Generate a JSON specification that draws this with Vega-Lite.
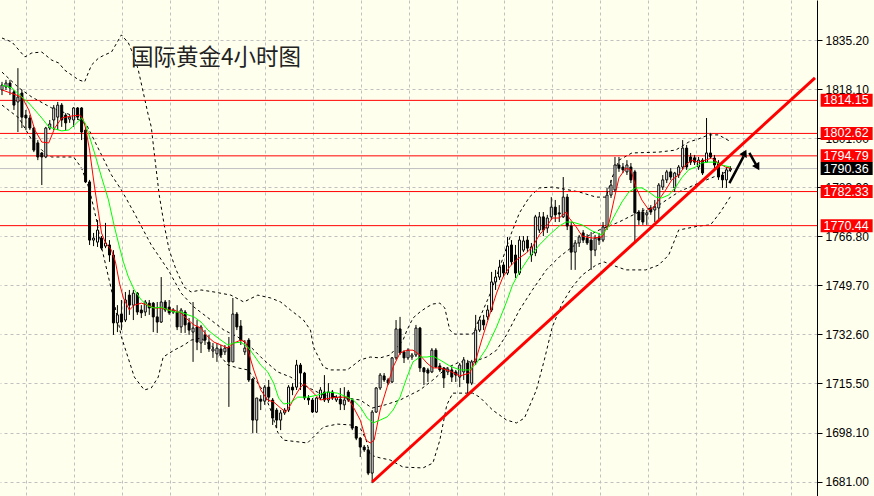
{
"$schema": "https://vega.github.io/schema/vega-lite/v6.json",
"width": 817, "height": 496,
"autosize": {"type": "none"},
"padding": {"left": 0, "top": 0, "right": 57, "bottom": 0},
"background": "#FFFFEE",
"config": {"view": {"stroke": null}, "bar": {"continuousBandSize": 2}},
"datasets": {
"cd": [
{"i":0,"o":1817.8,"h":1820.6,"l":1816.0,"c":1819.5},
{"i":1,"o":1818.8,"h":1821.3,"l":1817.8,"c":1820.2},
{"i":2,"o":1820.2,"h":1821.3,"l":1816.0,"c":1818.5},
{"i":3,"o":1817.1,"h":1817.8,"l":1810.8,"c":1812.5},
{"i":4,"o":1813.6,"h":1825.4,"l":1803.1,"c":1815.3},
{"i":5,"o":1816.7,"h":1817.8,"l":1804.5,"c":1808.3},
{"i":6,"o":1809.0,"h":1810.8,"l":1803.8,"c":1808.0},
{"i":7,"o":1808.0,"h":1809.0,"l":1803.8,"c":1804.5},
{"i":8,"o":1804.5,"h":1804.9,"l":1796.1,"c":1796.8},
{"i":9,"o":1799.3,"h":1800.3,"l":1793.3,"c":1794.4},
{"i":10,"o":1795.8,"h":1796.1,"l":1784.6,"c":1794.4},
{"i":11,"o":1794.4,"h":1804.9,"l":1794.0,"c":1804.5},
{"i":12,"o":1804.5,"h":1807.3,"l":1803.8,"c":1805.9},
{"i":13,"o":1807.3,"h":1812.5,"l":1803.8,"c":1811.5},
{"i":14,"o":1808.3,"h":1813.6,"l":1803.8,"c":1812.5},
{"i":15,"o":1812.5,"h":1813.2,"l":1804.9,"c":1807.3},
{"i":16,"o":1809.0,"h":1809.7,"l":1803.8,"c":1806.3},
{"i":17,"o":1807.6,"h":1809.0,"l":1806.3,"c":1808.3},
{"i":18,"o":1807.3,"h":1811.8,"l":1804.9,"c":1811.5},
{"i":19,"o":1811.5,"h":1811.8,"l":1807.3,"c":1808.3},
{"i":20,"o":1811.5,"h":1811.8,"l":1800.3,"c":1803.1},
{"i":21,"o":1803.8,"h":1804.5,"l":1785.3,"c":1785.7},
{"i":22,"o":1785.7,"h":1786.4,"l":1763.7,"c":1765.4},
{"i":23,"o":1765.4,"h":1767.9,"l":1763.3,"c":1766.1},
{"i":24,"o":1764.7,"h":1772.4,"l":1763.0,"c":1768.9},
{"i":25,"o":1766.1,"h":1766.8,"l":1761.9,"c":1762.6},
{"i":26,"o":1763.3,"h":1771.4,"l":1762.6,"c":1764.4},
{"i":27,"o":1763.7,"h":1765.4,"l":1757.8,"c":1760.2},
{"i":28,"o":1760.2,"h":1761.9,"l":1732.3,"c":1736.5},
{"i":29,"o":1736.5,"h":1742.7,"l":1733.3,"c":1739.3},
{"i":30,"o":1739.6,"h":1744.5,"l":1734.0,"c":1736.8},
{"i":31,"o":1737.5,"h":1747.3,"l":1736.8,"c":1744.5},
{"i":32,"o":1746.2,"h":1748.0,"l":1739.3,"c":1742.7},
{"i":33,"o":1742.7,"h":1748.0,"l":1737.5,"c":1746.9},
{"i":34,"o":1746.9,"h":1747.3,"l":1739.3,"c":1740.3},
{"i":35,"o":1741.0,"h":1742.7,"l":1738.2,"c":1740.0},
{"i":36,"o":1740.3,"h":1744.5,"l":1738.9,"c":1743.8},
{"i":37,"o":1743.4,"h":1744.5,"l":1739.3,"c":1741.7},
{"i":38,"o":1743.4,"h":1743.8,"l":1733.3,"c":1738.6},
{"i":39,"o":1738.6,"h":1743.8,"l":1733.0,"c":1736.8},
{"i":40,"o":1736.8,"h":1752.5,"l":1736.5,"c":1743.8},
{"i":41,"o":1743.8,"h":1744.5,"l":1740.3,"c":1741.0},
{"i":42,"o":1742.0,"h":1744.5,"l":1739.3,"c":1740.0},
{"i":43,"o":1740.3,"h":1741.7,"l":1739.6,"c":1741.0},
{"i":44,"o":1740.3,"h":1742.7,"l":1734.0,"c":1735.1},
{"i":45,"o":1735.1,"h":1741.7,"l":1733.0,"c":1741.0},
{"i":46,"o":1740.3,"h":1741.0,"l":1733.0,"c":1735.8},
{"i":47,"o":1736.5,"h":1738.2,"l":1732.3,"c":1734.0},
{"i":48,"o":1733.3,"h":1743.8,"l":1722.9,"c":1734.7},
{"i":49,"o":1735.1,"h":1737.5,"l":1727.0,"c":1729.8},
{"i":50,"o":1729.5,"h":1735.8,"l":1726.0,"c":1735.1},
{"i":51,"o":1732.3,"h":1734.0,"l":1728.8,"c":1730.5},
{"i":52,"o":1729.8,"h":1732.3,"l":1726.4,"c":1727.4},
{"i":53,"o":1726.7,"h":1729.5,"l":1724.3,"c":1727.4},
{"i":54,"o":1725.7,"h":1729.5,"l":1722.9,"c":1727.7},
{"i":55,"o":1727.4,"h":1728.8,"l":1724.3,"c":1725.3},
{"i":56,"o":1726.4,"h":1728.8,"l":1725.3,"c":1727.7},
{"i":57,"o":1728.1,"h":1731.6,"l":1707.2,"c":1722.9},
{"i":58,"o":1722.9,"h":1745.2,"l":1722.9,"c":1739.6},
{"i":59,"o":1739.6,"h":1740.3,"l":1734.0,"c":1735.1},
{"i":60,"o":1735.4,"h":1737.5,"l":1728.8,"c":1730.5},
{"i":61,"o":1726.4,"h":1730.5,"l":1725.3,"c":1727.7},
{"i":62,"o":1730.5,"h":1731.2,"l":1715.9,"c":1716.6},
{"i":63,"o":1716.9,"h":1717.3,"l":1698.1,"c":1702.6},
{"i":64,"o":1702.6,"h":1710.3,"l":1698.1,"c":1710.3},
{"i":65,"o":1709.9,"h":1711.3,"l":1706.1,"c":1709.2},
{"i":66,"o":1709.2,"h":1714.8,"l":1707.9,"c":1714.1},
{"i":67,"o":1714.1,"h":1716.6,"l":1708.9,"c":1710.6},
{"i":68,"o":1709.6,"h":1710.3,"l":1700.9,"c":1703.3},
{"i":69,"o":1706.1,"h":1706.8,"l":1699.8,"c":1702.6},
{"i":70,"o":1702.6,"h":1706.1,"l":1699.1,"c":1705.1},
{"i":71,"o":1705.1,"h":1706.8,"l":1704.4,"c":1706.1},
{"i":72,"o":1706.1,"h":1714.8,"l":1705.4,"c":1714.1},
{"i":73,"o":1714.1,"h":1715.5,"l":1711.3,"c":1713.1},
{"i":74,"o":1714.1,"h":1723.6,"l":1713.1,"c":1721.8},
{"i":75,"o":1721.8,"h":1722.5,"l":1713.1,"c":1719.0},
{"i":76,"o":1719.0,"h":1719.4,"l":1709.6,"c":1710.3},
{"i":77,"o":1710.3,"h":1711.3,"l":1707.9,"c":1709.6},
{"i":78,"o":1709.6,"h":1710.3,"l":1705.1,"c":1705.4},
{"i":79,"o":1705.4,"h":1710.6,"l":1705.1,"c":1710.3},
{"i":80,"o":1710.3,"h":1714.1,"l":1709.6,"c":1713.1},
{"i":81,"o":1712.4,"h":1718.3,"l":1708.9,"c":1709.6},
{"i":82,"o":1709.6,"h":1715.5,"l":1708.6,"c":1712.4},
{"i":83,"o":1712.4,"h":1713.1,"l":1709.6,"c":1710.3},
{"i":84,"o":1709.6,"h":1711.3,"l":1708.9,"c":1710.6},
{"i":85,"o":1709.9,"h":1713.8,"l":1706.1,"c":1708.2},
{"i":86,"o":1707.9,"h":1714.1,"l":1706.1,"c":1709.6},
{"i":87,"o":1712.4,"h":1713.1,"l":1708.9,"c":1709.6},
{"i":88,"o":1709.6,"h":1709.9,"l":1699.1,"c":1699.8},
{"i":89,"o":1700.2,"h":1700.5,"l":1695.6,"c":1696.3},
{"i":90,"o":1696.3,"h":1696.7,"l":1689.7,"c":1693.2},
{"i":91,"o":1693.2,"h":1693.9,"l":1691.5,"c":1692.2},
{"i":92,"o":1692.2,"h":1693.2,"l":1683.4,"c":1684.1},
{"i":93,"o":1684.1,"h":1706.1,"l":1680.6,"c":1705.4},
{"i":94,"o":1705.4,"h":1714.1,"l":1705.1,"c":1713.8},
{"i":95,"o":1713.8,"h":1719.0,"l":1713.1,"c":1718.3},
{"i":96,"o":1718.0,"h":1719.0,"l":1715.9,"c":1716.6},
{"i":97,"o":1716.6,"h":1717.3,"l":1714.8,"c":1715.5},
{"i":98,"o":1715.9,"h":1724.6,"l":1715.5,"c":1724.3},
{"i":99,"o":1724.3,"h":1737.5,"l":1723.6,"c":1734.4},
{"i":100,"o":1734.4,"h":1738.6,"l":1725.3,"c":1726.0},
{"i":101,"o":1726.4,"h":1727.0,"l":1722.5,"c":1724.3},
{"i":102,"o":1724.3,"h":1727.7,"l":1723.6,"c":1727.0},
{"i":103,"o":1724.6,"h":1726.0,"l":1723.6,"c":1725.3},
{"i":104,"o":1725.3,"h":1735.8,"l":1724.6,"c":1734.7},
{"i":105,"o":1734.7,"h":1735.1,"l":1719.4,"c":1720.8},
{"i":106,"o":1720.8,"h":1721.1,"l":1714.8,"c":1719.4},
{"i":107,"o":1720.1,"h":1720.8,"l":1715.9,"c":1719.0},
{"i":108,"o":1719.4,"h":1727.7,"l":1719.0,"c":1727.0},
{"i":109,"o":1727.0,"h":1727.7,"l":1720.8,"c":1721.1},
{"i":110,"o":1721.5,"h":1722.5,"l":1719.4,"c":1720.1},
{"i":111,"o":1720.8,"h":1721.1,"l":1713.8,"c":1717.3},
{"i":112,"o":1719.4,"h":1721.1,"l":1718.3,"c":1720.4},
{"i":113,"o":1720.1,"h":1721.1,"l":1715.9,"c":1717.6},
{"i":114,"o":1719.4,"h":1720.1,"l":1715.9,"c":1718.3},
{"i":115,"o":1717.6,"h":1722.5,"l":1714.1,"c":1721.8},
{"i":116,"o":1719.4,"h":1724.6,"l":1716.6,"c":1723.6},
{"i":117,"o":1722.5,"h":1723.6,"l":1712.0,"c":1715.5},
{"i":118,"o":1715.5,"h":1723.6,"l":1714.8,"c":1722.9},
{"i":119,"o":1722.9,"h":1739.3,"l":1721.8,"c":1734.0},
{"i":120,"o":1734.0,"h":1738.6,"l":1733.3,"c":1737.5},
{"i":121,"o":1737.5,"h":1739.3,"l":1734.0,"c":1735.8},
{"i":122,"o":1738.6,"h":1742.7,"l":1737.5,"c":1741.0},
{"i":123,"o":1741.0,"h":1754.3,"l":1740.3,"c":1750.8},
{"i":124,"o":1750.8,"h":1755.0,"l":1748.0,"c":1752.5},
{"i":125,"o":1752.5,"h":1758.5,"l":1751.5,"c":1756.0},
{"i":126,"o":1756.7,"h":1757.8,"l":1752.5,"c":1753.9},
{"i":127,"o":1753.9,"h":1766.5,"l":1753.2,"c":1763.3},
{"i":128,"o":1763.7,"h":1765.4,"l":1756.7,"c":1757.8},
{"i":129,"o":1760.2,"h":1763.7,"l":1752.2,"c":1753.9},
{"i":130,"o":1753.9,"h":1766.8,"l":1753.2,"c":1765.4},
{"i":131,"o":1761.9,"h":1766.8,"l":1761.2,"c":1765.1},
{"i":132,"o":1765.4,"h":1766.8,"l":1761.2,"c":1762.6},
{"i":133,"o":1760.2,"h":1764.4,"l":1757.8,"c":1763.0},
{"i":134,"o":1760.9,"h":1774.2,"l":1759.8,"c":1773.5},
{"i":135,"o":1768.9,"h":1775.2,"l":1767.9,"c":1773.5},
{"i":136,"o":1773.5,"h":1775.2,"l":1766.8,"c":1768.9},
{"i":137,"o":1769.6,"h":1774.2,"l":1767.9,"c":1773.1},
{"i":138,"o":1773.5,"h":1780.4,"l":1772.4,"c":1776.9},
{"i":139,"o":1776.9,"h":1779.4,"l":1771.7,"c":1774.2},
{"i":140,"o":1774.9,"h":1777.6,"l":1771.7,"c":1774.5},
{"i":141,"o":1773.5,"h":1787.4,"l":1773.1,"c":1780.4},
{"i":142,"o":1780.4,"h":1781.5,"l":1768.9,"c":1770.3},
{"i":143,"o":1770.3,"h":1771.7,"l":1755.0,"c":1761.2},
{"i":144,"o":1761.2,"h":1765.4,"l":1755.0,"c":1764.4},
{"i":145,"o":1764.4,"h":1767.2,"l":1763.0,"c":1766.5},
{"i":146,"o":1767.9,"h":1768.9,"l":1764.4,"c":1765.4},
{"i":147,"o":1766.1,"h":1767.5,"l":1763.7,"c":1764.4},
{"i":148,"o":1765.4,"h":1768.2,"l":1755.0,"c":1761.9},
{"i":149,"o":1761.9,"h":1767.2,"l":1759.8,"c":1766.1},
{"i":150,"o":1766.5,"h":1767.9,"l":1763.7,"c":1765.4},
{"i":151,"o":1765.4,"h":1771.7,"l":1764.7,"c":1770.0},
{"i":152,"o":1770.0,"h":1783.6,"l":1768.9,"c":1781.1},
{"i":153,"o":1781.1,"h":1786.4,"l":1780.1,"c":1784.6},
{"i":154,"o":1782.9,"h":1794.4,"l":1782.2,"c":1791.6},
{"i":155,"o":1791.6,"h":1794.4,"l":1789.2,"c":1790.5},
{"i":156,"o":1790.9,"h":1792.3,"l":1788.8,"c":1789.9},
{"i":157,"o":1789.2,"h":1793.3,"l":1788.1,"c":1791.6},
{"i":158,"o":1790.9,"h":1792.3,"l":1785.3,"c":1786.4},
{"i":159,"o":1789.2,"h":1789.9,"l":1764.7,"c":1774.9},
{"i":160,"o":1775.2,"h":1775.9,"l":1770.7,"c":1772.4},
{"i":161,"o":1775.2,"h":1776.6,"l":1770.7,"c":1771.7},
{"i":162,"o":1774.2,"h":1775.9,"l":1770.7,"c":1774.9},
{"i":163,"o":1776.6,"h":1777.6,"l":1774.2,"c":1775.2},
{"i":164,"o":1775.9,"h":1779.4,"l":1771.7,"c":1776.9},
{"i":165,"o":1776.6,"h":1785.3,"l":1772.4,"c":1784.6},
{"i":166,"o":1783.9,"h":1788.1,"l":1782.9,"c":1786.4},
{"i":167,"o":1786.4,"h":1789.9,"l":1785.3,"c":1789.2},
{"i":168,"o":1789.2,"h":1790.5,"l":1786.4,"c":1787.4},
{"i":169,"o":1783.6,"h":1789.2,"l":1782.2,"c":1788.8},
{"i":170,"o":1788.1,"h":1791.6,"l":1787.1,"c":1790.9},
{"i":171,"o":1790.9,"h":1800.3,"l":1789.9,"c":1797.5},
{"i":172,"o":1797.5,"h":1798.6,"l":1789.9,"c":1790.9},
{"i":173,"o":1794.4,"h":1795.8,"l":1791.6,"c":1792.6},
{"i":174,"o":1794.1,"h":1795.1,"l":1791.6,"c":1792.6},
{"i":175,"o":1790.9,"h":1794.4,"l":1789.9,"c":1793.3},
{"i":176,"o":1793.3,"h":1794.0,"l":1788.1,"c":1788.8},
{"i":177,"o":1792.6,"h":1808.0,"l":1792.3,"c":1795.8},
{"i":178,"o":1795.8,"h":1802.8,"l":1794.0,"c":1794.4},
{"i":179,"o":1794.0,"h":1795.1,"l":1790.5,"c":1791.6},
{"i":180,"o":1792.3,"h":1793.3,"l":1786.4,"c":1787.4},
{"i":181,"o":1788.1,"h":1789.2,"l":1783.6,"c":1786.4},
{"i":182,"o":1786.4,"h":1790.9,"l":1783.6,"c":1789.9},
{"i":183,"o":1789.9,"h":1791.2,"l":1789.2,"c":1790.4}
],
"ln": [
{"k":"r","i":0,"p":1817.8},{"k":"r","i":5,"p":1815.3},{"k":"r","i":6.75,"p":1810.8},{"k":"r","i":8.25,"p":1803.8},{"k":"r","i":10,"p":1799.6},{"k":"r","i":11.75,"p":1799.3},{"k":"r","i":13.25,"p":1804.5},{"k":"r","i":15,"p":1808.0},{"k":"r","i":17.5,"p":1808.7},{"k":"r","i":19.5,"p":1809.0},{"k":"r","i":20.25,"p":1808.0},{"k":"r","i":21,"p":1804.5},{"k":"r","i":22,"p":1796.8},{"k":"r","i":23.25,"p":1783.9},{"k":"r","i":24.25,"p":1774.8},{"k":"r","i":25,"p":1767.9},{"k":"r","i":26,"p":1764.4},{"k":"r","i":27.5,"p":1761.9},{"k":"r","i":28.5,"p":1757.8},{"k":"r","i":29.5,"p":1750.4},{"k":"r","i":30.5,"p":1745.2},{"k":"r","i":32,"p":1741.0},{"k":"r","i":33.25,"p":1742.7},{"k":"r","i":35,"p":1743.4},{"k":"r","i":36.75,"p":1742.7},{"k":"r","i":38.25,"p":1741.7},{"k":"r","i":40,"p":1741.7},{"k":"r","i":41.75,"p":1741.0},{"k":"r","i":43.25,"p":1741.0},{"k":"r","i":45,"p":1739.9},{"k":"r","i":46.75,"p":1737.5},{"k":"r","i":48.25,"p":1735.8},{"k":"r","i":50,"p":1734.7},{"k":"r","i":51.75,"p":1731.6},{"k":"r","i":53.25,"p":1729.8},{"k":"r","i":55,"p":1728.8},{"k":"r","i":56.75,"p":1727.7},{"k":"r","i":58.25,"p":1729.5},{"k":"r","i":60,"p":1730.5},{"k":"r","i":61.25,"p":1729.8},{"k":"r","i":62,"p":1726.0},{"k":"r","i":63.25,"p":1720.1},{"k":"r","i":65,"p":1713.1},{"k":"r","i":66.75,"p":1709.6},{"k":"r","i":68.25,"p":1708.9},{"k":"r","i":70,"p":1706.8},{"k":"r","i":71.25,"p":1705.4},{"k":"r","i":72.5,"p":1707.9},{"k":"r","i":73.75,"p":1711.3},{"k":"r","i":75,"p":1714.1},{"k":"r","i":76,"p":1715.2},{"k":"r","i":77.5,"p":1713.1},{"k":"r","i":80,"p":1709.6},{"k":"r","i":82.5,"p":1710.3},{"k":"r","i":85,"p":1710.6},{"k":"r","i":86.75,"p":1710.6},{"k":"r","i":88.25,"p":1707.2},{"k":"r","i":90,"p":1702.6},{"k":"r","i":91.5,"p":1695.6},{"k":"r","i":92.5,"p":1694.6},{"k":"r","i":93.5,"p":1695.6},{"k":"r","i":95,"p":1706.1},{"k":"r","i":96.75,"p":1714.1},{"k":"r","i":98.25,"p":1721.1},{"k":"r","i":100,"p":1726.0},{"k":"r","i":101.75,"p":1727.0},{"k":"r","i":103.25,"p":1727.0},{"k":"r","i":105,"p":1725.3},{"k":"r","i":106.75,"p":1722.5},{"k":"r","i":108.25,"p":1720.8},{"k":"r","i":110,"p":1720.8},{"k":"r","i":112.5,"p":1719.7},{"k":"r","i":115,"p":1718.0},{"k":"r","i":117.5,"p":1719.0},{"k":"r","i":119.25,"p":1724.6},{"k":"r","i":120.75,"p":1731.6},{"k":"r","i":122.5,"p":1739.3},{"k":"r","i":124.25,"p":1746.9},{"k":"r","i":125.75,"p":1752.2},{"k":"r","i":127.5,"p":1756.0},{"k":"r","i":129.25,"p":1758.5},{"k":"r","i":131.75,"p":1760.9},{"k":"r","i":133.25,"p":1763.0},{"k":"r","i":135,"p":1767.2},{"k":"r","i":136.75,"p":1770.0},{"k":"r","i":138.25,"p":1773.1},{"k":"r","i":140,"p":1773.1},{"k":"r","i":141.75,"p":1775.2},{"k":"r","i":142.5,"p":1773.1},{"k":"r","i":144.25,"p":1770.0},{"k":"r","i":145.75,"p":1766.8},{"k":"r","i":148.25,"p":1766.1},{"k":"r","i":150.75,"p":1766.5},{"k":"r","i":152.5,"p":1771.4},{"k":"r","i":153.75,"p":1779.4},{"k":"r","i":155,"p":1787.1},{"k":"r","i":156.75,"p":1790.5},{"k":"r","i":158,"p":1789.9},{"k":"r","i":159.25,"p":1783.9},{"k":"r","i":160.75,"p":1779.4},{"k":"r","i":162.5,"p":1775.9},{"k":"r","i":163.75,"p":1776.9},{"k":"r","i":165,"p":1779.4},{"k":"r","i":166.75,"p":1782.9},{"k":"r","i":168.25,"p":1786.4},{"k":"r","i":170,"p":1788.1},{"k":"r","i":171.75,"p":1791.6},{"k":"r","i":173.25,"p":1793.3},{"k":"r","i":175,"p":1792.6},{"k":"r","i":176.75,"p":1793.3},{"k":"r","i":178.25,"p":1794.0},{"k":"r","i":180,"p":1792.3},{"k":"r","i":181.75,"p":1790.9},{"k":"r","i":183,"p":1790.5},
{"k":"g","i":0,"p":1819.5},{"k":"g","i":2.5,"p":1818.5},{"k":"g","i":5,"p":1815.3},{"k":"g","i":6.75,"p":1813.2},{"k":"g","i":8.25,"p":1810.8},{"k":"g","i":10,"p":1808.0},{"k":"g","i":11.75,"p":1804.9},{"k":"g","i":13.25,"p":1804.2},{"k":"g","i":15,"p":1803.5},{"k":"g","i":16.75,"p":1803.8},{"k":"g","i":18.25,"p":1805.6},{"k":"g","i":20,"p":1808.0},{"k":"g","i":21,"p":1805.9},{"k":"g","i":22,"p":1801.4},{"k":"g","i":23.25,"p":1795.8},{"k":"g","i":25,"p":1787.4},{"k":"g","i":26.75,"p":1779.4},{"k":"g","i":28.25,"p":1770.0},{"k":"g","i":29.5,"p":1763.0},{"k":"g","i":30.5,"p":1757.8},{"k":"g","i":31.75,"p":1752.5},{"k":"g","i":33.25,"p":1748.0},{"k":"g","i":35,"p":1744.5},{"k":"g","i":36.75,"p":1742.4},{"k":"g","i":38.25,"p":1741.7},{"k":"g","i":40,"p":1742.0},{"k":"g","i":41.75,"p":1741.0},{"k":"g","i":43.25,"p":1740.3},{"k":"g","i":45,"p":1740.3},{"k":"g","i":46.75,"p":1739.3},{"k":"g","i":48.25,"p":1738.6},{"k":"g","i":50,"p":1736.8},{"k":"g","i":51.75,"p":1734.0},{"k":"g","i":53.25,"p":1732.3},{"k":"g","i":55,"p":1730.5},{"k":"g","i":56.75,"p":1728.8},{"k":"g","i":58.25,"p":1729.5},{"k":"g","i":60,"p":1729.8},{"k":"g","i":61.75,"p":1728.1},{"k":"g","i":63.25,"p":1725.3},{"k":"g","i":65,"p":1721.8},{"k":"g","i":66.75,"p":1719.4},{"k":"g","i":68.25,"p":1715.5},{"k":"g","i":69.5,"p":1710.3},{"k":"g","i":70.75,"p":1708.2},{"k":"g","i":72.5,"p":1708.6},{"k":"g","i":74.25,"p":1710.6},{"k":"g","i":76.75,"p":1710.6},{"k":"g","i":79.25,"p":1711.3},{"k":"g","i":81.75,"p":1712.4},{"k":"g","i":84.25,"p":1712.0},{"k":"g","i":86.75,"p":1710.6},{"k":"g","i":88.25,"p":1709.6},{"k":"g","i":90,"p":1707.2},{"k":"g","i":91.75,"p":1703.3},{"k":"g","i":93.25,"p":1701.6},{"k":"g","i":95,"p":1702.6},{"k":"g","i":96.75,"p":1703.7},{"k":"g","i":98.25,"p":1706.1},{"k":"g","i":100,"p":1710.6},{"k":"g","i":101.75,"p":1717.6},{"k":"g","i":103.25,"p":1722.9},{"k":"g","i":105,"p":1724.6},{"k":"g","i":106.75,"p":1724.6},{"k":"g","i":108.25,"p":1724.9},{"k":"g","i":110,"p":1723.6},{"k":"g","i":112.5,"p":1721.5},{"k":"g","i":115,"p":1720.1},{"k":"g","i":117.5,"p":1720.1},{"k":"g","i":119.25,"p":1722.5},{"k":"g","i":121.75,"p":1727.7},{"k":"g","i":124.25,"p":1735.1},{"k":"g","i":126.75,"p":1743.8},{"k":"g","i":128.25,"p":1749.7},{"k":"g","i":130,"p":1754.3},{"k":"g","i":132.5,"p":1759.5},{"k":"g","i":135,"p":1763.7},{"k":"g","i":137.5,"p":1767.2},{"k":"g","i":140,"p":1770.3},{"k":"g","i":141.75,"p":1771.7},{"k":"g","i":143.25,"p":1771.7},{"k":"g","i":145.75,"p":1770.7},{"k":"g","i":148.25,"p":1768.6},{"k":"g","i":150.75,"p":1767.2},{"k":"g","i":152.5,"p":1770.3},{"k":"g","i":154.25,"p":1774.9},{"k":"g","i":155.75,"p":1778.7},{"k":"g","i":157.5,"p":1782.2},{"k":"g","i":159.25,"p":1783.6},{"k":"g","i":160.75,"p":1783.6},{"k":"g","i":162.5,"p":1782.2},{"k":"g","i":164.25,"p":1780.4},{"k":"g","i":165.75,"p":1780.1},{"k":"g","i":167.5,"p":1781.1},{"k":"g","i":169.25,"p":1783.9},{"k":"g","i":170.75,"p":1787.1},{"k":"g","i":172.5,"p":1789.9},{"k":"g","i":174.25,"p":1790.9},{"k":"g","i":175.75,"p":1792.3},{"k":"g","i":177.5,"p":1792.6},{"k":"g","i":179.25,"p":1792.6},{"k":"g","i":180.75,"p":1791.6},{"k":"g","i":183,"p":1790.9},
{"k":"u","i":0,"p":1835.9},{"k":"u","i":2.5,"p":1834.5},{"k":"u","i":4.25,"p":1831.7},{"k":"u","i":5.75,"p":1829.3},{"k":"u","i":7.5,"p":1830.7},{"k":"u","i":10,"p":1831.0},{"k":"u","i":12.5,"p":1828.2},{"k":"u","i":14.25,"p":1827.2},{"k":"u","i":15.75,"p":1824.7},{"k":"u","i":17.5,"p":1823.0},{"k":"u","i":19.25,"p":1821.3},{"k":"u","i":20.75,"p":1820.6},{"k":"u","i":21.75,"p":1824.0},{"k":"u","i":22.5,"p":1826.5},{"k":"u","i":24.25,"p":1828.9},{"k":"u","i":25.75,"p":1830.0},{"k":"u","i":27.5,"p":1831.0},{"k":"u","i":29.25,"p":1835.2},{"k":"u","i":30,"p":1837.0},{"k":"u","i":31.75,"p":1834.2},{"k":"u","i":33.25,"p":1829.3},{"k":"u","i":34.25,"p":1824.7},{"k":"u","i":35.75,"p":1815.3},{"k":"u","i":36.75,"p":1809.0},{"k":"u","i":37.5,"p":1804.9},{"k":"u","i":38.25,"p":1795.8},{"k":"u","i":38.75,"p":1789.9},{"k":"u","i":39.5,"p":1781.1},{"k":"u","i":40.75,"p":1770.7},{"k":"u","i":42,"p":1761.9},{"k":"u","i":43.75,"p":1755.0},{"k":"u","i":45.75,"p":1749.0},{"k":"u","i":47.5,"p":1747.3},{"k":"u","i":50,"p":1748.0},{"k":"u","i":53.25,"p":1747.3},{"k":"u","i":57.5,"p":1746.2},{"k":"u","i":60.75,"p":1743.8},{"k":"u","i":64.25,"p":1746.2},{"k":"u","i":67.5,"p":1745.2},{"k":"u","i":70,"p":1743.8},{"k":"u","i":72.5,"p":1741.0},{"k":"u","i":75.75,"p":1737.5},{"k":"u","i":77.5,"p":1734.0},{"k":"u","i":78.25,"p":1728.1},{"k":"u","i":80.75,"p":1721.1},{"k":"u","i":82.5,"p":1720.1},{"k":"u","i":86.75,"p":1720.1},{"k":"u","i":90,"p":1723.6},{"k":"u","i":92.5,"p":1724.6},{"k":"u","i":95,"p":1724.3},{"k":"u","i":97.5,"p":1725.3},{"k":"u","i":99.25,"p":1728.1},{"k":"u","i":100.75,"p":1730.5},{"k":"u","i":101.75,"p":1734.0},{"k":"u","i":103.25,"p":1738.2},{"k":"u","i":105,"p":1740.3},{"k":"u","i":106.75,"p":1742.0},{"k":"u","i":108.25,"p":1743.1},{"k":"u","i":110,"p":1743.4},{"k":"u","i":111.25,"p":1741.7},{"k":"u","i":112.5,"p":1734.0},{"k":"u","i":113.75,"p":1732.6},{"k":"u","i":118.25,"p":1732.6},{"k":"u","i":120,"p":1738.2},{"k":"u","i":122.5,"p":1746.2},{"k":"u","i":125,"p":1755.7},{"k":"u","i":128,"p":1767.9},{"k":"u","i":130,"p":1774.9},{"k":"u","i":132.5,"p":1780.4},{"k":"u","i":135,"p":1783.6},{"k":"u","i":138.25,"p":1783.9},{"k":"u","i":141.25,"p":1783.2},{"k":"u","i":145,"p":1782.2},{"k":"u","i":149.25,"p":1780.4},{"k":"u","i":151.75,"p":1780.4},{"k":"u","i":153.25,"p":1787.1},{"k":"u","i":155,"p":1793.3},{"k":"u","i":158.25,"p":1795.8},{"k":"u","i":165,"p":1796.1},{"k":"u","i":169.25,"p":1796.8},{"k":"u","i":172.5,"p":1799.6},{"k":"u","i":175,"p":1800.7},{"k":"u","i":177.5,"p":1802.1},{"k":"u","i":180,"p":1802.1},{"k":"u","i":183.25,"p":1799.6},
{"k":"m","i":0,"p":1824.0},{"k":"m","i":4.25,"p":1818.5},{"k":"m","i":7.5,"p":1815.3},{"k":"m","i":12.5,"p":1811.5},{"k":"m","i":18,"p":1808.7},{"k":"m","i":21.25,"p":1805.6},{"k":"m","i":25,"p":1795.1},{"k":"m","i":27.5,"p":1788.1},{"k":"m","i":30,"p":1782.9},{"k":"m","i":33.25,"p":1774.8},{"k":"m","i":37.5,"p":1763.7},{"k":"m","i":41.75,"p":1755.0},{"k":"m","i":45,"p":1746.9},{"k":"m","i":48.25,"p":1742.0},{"k":"m","i":52.5,"p":1737.5},{"k":"m","i":55.75,"p":1734.0},{"k":"m","i":59.25,"p":1731.6},{"k":"m","i":62.5,"p":1728.1},{"k":"m","i":65.75,"p":1723.6},{"k":"m","i":69.25,"p":1719.4},{"k":"m","i":72.5,"p":1717.6},{"k":"m","i":75.75,"p":1714.8},{"k":"m","i":80.75,"p":1711.3},{"k":"m","i":85,"p":1710.6},{"k":"m","i":90,"p":1709.6},{"k":"m","i":93,"p":1706.8},{"k":"m","i":96.25,"p":1707.9},{"k":"m","i":100,"p":1709.6},{"k":"m","i":105,"p":1713.1},{"k":"m","i":108.25,"p":1716.6},{"k":"m","i":111.75,"p":1720.8},{"k":"m","i":115,"p":1722.9},{"k":"m","i":118.25,"p":1722.9},{"k":"m","i":121.75,"p":1724.6},{"k":"m","i":124.25,"p":1727.0},{"k":"m","i":126.75,"p":1732.3},{"k":"m","i":130,"p":1741.0},{"k":"m","i":133.25,"p":1748.0},{"k":"m","i":136.75,"p":1755.0},{"k":"m","i":140,"p":1759.5},{"k":"m","i":143.25,"p":1763.0},{"k":"m","i":146.75,"p":1766.5},{"k":"m","i":150,"p":1768.9},{"k":"m","i":155,"p":1771.7},{"k":"m","i":160,"p":1775.2},{"k":"m","i":165,"p":1777.6},{"k":"m","i":170,"p":1782.2},{"k":"m","i":175,"p":1785.3},{"k":"m","i":180,"p":1788.1},{"k":"m","i":183.25,"p":1789.9},
{"k":"d","i":0,"p":1812.5},{"k":"d","i":4.25,"p":1808.0},{"k":"d","i":7.5,"p":1800.3},{"k":"d","i":11.25,"p":1795.1},{"k":"d","i":12.5,"p":1794.4},{"k":"d","i":18,"p":1794.4},{"k":"d","i":20,"p":1790.5},{"k":"d","i":22,"p":1782.9},{"k":"d","i":23.75,"p":1772.4},{"k":"d","i":25,"p":1763.0},{"k":"d","i":27.5,"p":1748.0},{"k":"d","i":30,"p":1731.6},{"k":"d","i":33.25,"p":1717.6},{"k":"d","i":35.75,"p":1713.1},{"k":"d","i":37.5,"p":1713.8},{"k":"d","i":39.25,"p":1717.6},{"k":"d","i":40.5,"p":1724.6},{"k":"d","i":43.25,"p":1727.0},{"k":"d","i":45.75,"p":1728.8},{"k":"d","i":47.5,"p":1730.5},{"k":"d","i":50,"p":1731.2},{"k":"d","i":53.25,"p":1727.7},{"k":"d","i":56.75,"p":1721.8},{"k":"d","i":59.25,"p":1720.8},{"k":"d","i":61.75,"p":1720.1},{"k":"d","i":63.75,"p":1716.6},{"k":"d","i":65.75,"p":1712.4},{"k":"d","i":67.5,"p":1706.1},{"k":"d","i":69.25,"p":1698.4},{"k":"d","i":70.75,"p":1695.6},{"k":"d","i":76.75,"p":1694.6},{"k":"d","i":78.25,"p":1696.7},{"k":"d","i":80.75,"p":1700.2},{"k":"d","i":84.25,"p":1701.2},{"k":"d","i":87.5,"p":1700.9},{"k":"d","i":90,"p":1699.8},{"k":"d","i":91.5,"p":1695.6},{"k":"d","i":92.5,"p":1690.4},{"k":"d","i":95,"p":1689.4},{"k":"d","i":97.5,"p":1688.7},{"k":"d","i":100.75,"p":1686.2},{"k":"d","i":105.75,"p":1685.9},{"k":"d","i":108.25,"p":1687.6},{"k":"d","i":110,"p":1695.6},{"k":"d","i":111.75,"p":1707.9},{"k":"d","i":113.25,"p":1712.0},{"k":"d","i":118.25,"p":1712.0},{"k":"d","i":120,"p":1710.6},{"k":"d","i":123.25,"p":1706.1},{"k":"d","i":126.75,"p":1702.6},{"k":"d","i":129.25,"p":1701.6},{"k":"d","i":131.25,"p":1703.3},{"k":"d","i":134.25,"p":1713.1},{"k":"d","i":136.25,"p":1723.6},{"k":"d","i":138.25,"p":1735.1},{"k":"d","i":140.75,"p":1743.4},{"k":"d","i":143.25,"p":1749.0},{"k":"d","i":145.75,"p":1753.2},{"k":"d","i":149.25,"p":1756.7},{"k":"d","i":151.25,"p":1757.8},{"k":"d","i":153.25,"p":1756.7},{"k":"d","i":156.75,"p":1755.0},{"k":"d","i":161.75,"p":1755.0},{"k":"d","i":165,"p":1756.7},{"k":"d","i":167.5,"p":1760.2},{"k":"d","i":170,"p":1768.9},{"k":"d","i":175,"p":1770.3},{"k":"d","i":178,"p":1770.7},{"k":"d","i":180.5,"p":1775.2},{"k":"d","i":183.25,"p":1781.1}
],
"lv": [{"p":1814.15},{"p":1802.62},{"p":1794.79},{"p":1782.33},{"p":1770.44}],
"bid": [{"p":1790.36}],
"tr": [{"i":93,"p":1681.0,"i2":204.25,"p2":1822.0}],
"ar": [{"i":182.75,"p":1785.3,"i2":186.3,"p2":1794.6},{"i":187.75,"p":1795.8,"i2":189.4,"p2":1791.8}],
"hu": [{"i":186.6,"p":1795.8}],
"hd": [{"i":189.8,"p":1790.9}]
},
"layer": [
{"data": {"name": "ln"}, "transform": [{"filter": "datum.k === 'u'"}],
 "mark": {"type": "line", "color": "#000000", "strokeWidth": 1, "strokeDash": [3, 3]},
 "encoding": {
  "x": {"field": "i", "type": "quantitative", "title": null, "scale": {"domain": [0, 204.25], "nice": false, "zero": false},
        "axis": {"orient": "bottom", "title": null, "values": [6.125, 18.14, 30.15, 42.16, 54.17, 66.18, 78.19, 90.2, 102.21, 114.22, 126.23, 138.24, 150.25, 162.26, 174.27, 186.28, 198.29], "grid": true, "gridColor": "#C0C0C0", "gridDash": [3, 3], "gridWidth": 1, "labels": false, "ticks": false, "domain": false}},
  "y": {"field": "p", "type": "quantitative", "title": null, "scale": {"domain": [1676.11, 1849.17], "nice": false, "zero": false},
        "axis": {"orient": "right", "title": null, "values": [1681.0, 1698.1, 1715.5, 1732.6, 1749.7, 1766.8, 1783.9, 1801.0, 1818.1, 1835.2], "format": ".2f", "grid": true, "gridColor": "#C0C0C0", "gridDash": [3, 3], "gridWidth": 1, "domain": true, "domainColor": "#000000", "domainWidth": 1, "ticks": true, "tickColor": "#000000", "tickSize": 5, "labelColor": "#000000", "labelFont": "Liberation Sans", "labelFontSize": 12, "labelPadding": 3, "labelOverlap": false, "labelFlush": false, "labelBaseline": "middle"}}
 }},
{"data": {"name": "ln"}, "transform": [{"filter": "datum.k === 'm'"}],
 "mark": {"type": "line", "color": "#000000", "strokeWidth": 1, "strokeDash": [3, 3]},
 "encoding": {"x": {"field": "i", "type": "quantitative", "title": null, "scale": {"domain": [0, 204.25], "nice": false, "zero": false}},
  "y": {"field": "p", "type": "quantitative", "title": null, "scale": {"domain": [1676.11, 1849.17], "nice": false, "zero": false}}}},
{"data": {"name": "ln"}, "transform": [{"filter": "datum.k === 'd'"}],
 "mark": {"type": "line", "color": "#000000", "strokeWidth": 1, "strokeDash": [3, 3]},
 "encoding": {"x": {"field": "i", "type": "quantitative", "title": null, "scale": {"domain": [0, 204.25], "nice": false, "zero": false}},
  "y": {"field": "p", "type": "quantitative", "title": null, "scale": {"domain": [1676.11, 1849.17], "nice": false, "zero": false}}}},
{"data": {"name": "lv"}, "mark": {"type": "rule", "color": "#FF0000", "strokeWidth": 1},
 "encoding": {"y": {"field": "p", "type": "quantitative", "title": null, "scale": {"domain": [1676.11, 1849.17], "nice": false, "zero": false}}}},
{"data": {"name": "bid"}, "mark": {"type": "rule", "color": "#C0C0C0", "strokeWidth": 1},
 "encoding": {"y": {"field": "p", "type": "quantitative", "title": null, "scale": {"domain": [1676.11, 1849.17], "nice": false, "zero": false}}}},
{"data": {"name": "cd"}, "mark": {"type": "rule", "color": "#000000", "strokeWidth": 1},
 "encoding": {"x": {"field": "i", "type": "quantitative", "title": null, "scale": {"domain": [0, 204.25], "nice": false, "zero": false}},
  "y": {"field": "l", "type": "quantitative", "title": null, "scale": {"domain": [1676.11, 1849.17], "nice": false, "zero": false}},
  "y2": {"field": "h"}}},
{"data": {"name": "cd"}, "mark": {"type": "bar", "stroke": "#000000", "strokeWidth": 1, "orient": "vertical"},
 "encoding": {"x": {"field": "i", "type": "quantitative", "title": null, "scale": {"domain": [0, 204.25], "nice": false, "zero": false}},
  "y": {"field": "o", "type": "quantitative", "title": null, "scale": {"domain": [1676.11, 1849.17], "nice": false, "zero": false}},
  "y2": {"field": "c"},
  "fill": {"condition": {"test": "datum.c >= datum.o", "value": "#FFFFFF"}, "value": "#000000"}}},
{"data": {"name": "ln"}, "transform": [{"filter": "datum.k === 'r'"}],
 "mark": {"type": "line", "color": "#FF0000", "strokeWidth": 1},
 "encoding": {"x": {"field": "i", "type": "quantitative", "title": null, "scale": {"domain": [0, 204.25], "nice": false, "zero": false}},
  "y": {"field": "p", "type": "quantitative", "title": null, "scale": {"domain": [1676.11, 1849.17], "nice": false, "zero": false}}}},
{"data": {"name": "ln"}, "transform": [{"filter": "datum.k === 'g'"}],
 "mark": {"type": "line", "color": "#00FF00", "strokeWidth": 1},
 "encoding": {"x": {"field": "i", "type": "quantitative", "title": null, "scale": {"domain": [0, 204.25], "nice": false, "zero": false}},
  "y": {"field": "p", "type": "quantitative", "title": null, "scale": {"domain": [1676.11, 1849.17], "nice": false, "zero": false}}}},
{"data": {"name": "tr"}, "mark": {"type": "rule", "color": "#FF0000", "strokeWidth": 3},
 "encoding": {"x": {"field": "i", "type": "quantitative", "title": null, "scale": {"domain": [0, 204.25], "nice": false, "zero": false}},
  "x2": {"field": "i2"},
  "y": {"field": "p", "type": "quantitative", "title": null, "scale": {"domain": [1676.11, 1849.17], "nice": false, "zero": false}},
  "y2": {"field": "p2"}}},
{"data": {"name": "ar"}, "mark": {"type": "rule", "color": "#000000", "strokeWidth": 2.5},
 "encoding": {"x": {"field": "i", "type": "quantitative", "title": null, "scale": {"domain": [0, 204.25], "nice": false, "zero": false}},
  "x2": {"field": "i2"},
  "y": {"field": "p", "type": "quantitative", "title": null, "scale": {"domain": [1676.11, 1849.17], "nice": false, "zero": false}},
  "y2": {"field": "p2"}}},
{"data": {"name": "hu"}, "mark": {"type": "point", "shape": "triangle-up", "filled": true, "color": "#000000", "size": 70, "angle": 27, "opacity": 1},
 "encoding": {"x": {"field": "i", "type": "quantitative", "title": null, "scale": {"domain": [0, 204.25], "nice": false, "zero": false}},
  "y": {"field": "p", "type": "quantitative", "title": null, "scale": {"domain": [1676.11, 1849.17], "nice": false, "zero": false}}}},
{"data": {"name": "hd"}, "mark": {"type": "point", "shape": "triangle-up", "filled": true, "color": "#000000", "size": 70, "angle": 150, "opacity": 1},
 "encoding": {"x": {"field": "i", "type": "quantitative", "title": null, "scale": {"domain": [0, 204.25], "nice": false, "zero": false}},
  "y": {"field": "p", "type": "quantitative", "title": null, "scale": {"domain": [1676.11, 1849.17], "nice": false, "zero": false}}}},
{"data": {"values": [{"t": "国际黄金4小时图"}]},
 "mark": {"type": "text", "font": "Noto Sans CJK SC", "fontSize": 22.5, "color": "#222222", "align": "left", "baseline": "middle"},
 "encoding": {"x": {"datum": 32.4, "type": "quantitative", "title": null, "scale": {"domain": [0, 204.25], "nice": false, "zero": false}},
  "y": {"datum": 1828.9, "type": "quantitative", "title": null, "scale": {"domain": [1676.11, 1849.17], "nice": false, "zero": false}},
  "text": {"field": "t"}}},
{"data": {"name": "lv"}, "mark": {"type": "tick", "orient": "horizontal", "color": "#FF0000", "size": 52, "thickness": 13, "opacity": 1},
 "encoding": {"x": {"datum": 212.2, "type": "quantitative", "title": null, "scale": {"domain": [0, 204.25], "nice": false, "zero": false}},
  "y": {"field": "p", "type": "quantitative", "title": null, "scale": {"domain": [1676.11, 1849.17], "nice": false, "zero": false}}}},
{"data": {"name": "bid"}, "mark": {"type": "tick", "orient": "horizontal", "color": "#000000", "size": 52, "thickness": 13, "opacity": 1},
 "encoding": {"x": {"datum": 212.2, "type": "quantitative", "title": null, "scale": {"domain": [0, 204.25], "nice": false, "zero": false}},
  "y": {"field": "p", "type": "quantitative", "title": null, "scale": {"domain": [1676.11, 1849.17], "nice": false, "zero": false}}}},
{"data": {"name": "lv"}, "mark": {"type": "text", "color": "#FFFFFF", "font": "Liberation Sans", "fontSize": 12.5, "align": "left", "baseline": "middle"},
 "encoding": {"x": {"datum": 206.4, "type": "quantitative", "title": null, "scale": {"domain": [0, 204.25], "nice": false, "zero": false}},
  "y": {"field": "p", "type": "quantitative", "title": null, "scale": {"domain": [1676.11, 1849.17], "nice": false, "zero": false}},
  "text": {"field": "p", "type": "quantitative", "format": ".2f"}}},
{"data": {"name": "bid"}, "mark": {"type": "text", "color": "#FFFFFF", "font": "Liberation Sans", "fontSize": 12.5, "align": "left", "baseline": "middle"},
 "encoding": {"x": {"datum": 206.4, "type": "quantitative", "title": null, "scale": {"domain": [0, 204.25], "nice": false, "zero": false}},
  "y": {"field": "p", "type": "quantitative", "title": null, "scale": {"domain": [1676.11, 1849.17], "nice": false, "zero": false}},
  "text": {"field": "p", "type": "quantitative", "format": ".2f"}}}
]
}
